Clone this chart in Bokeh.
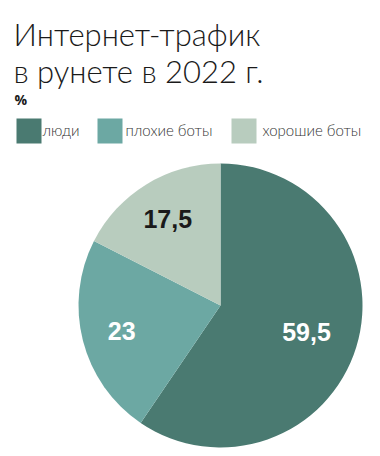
import math
from bokeh.plotting import figure
from bokeh.models import Range1d, ColumnDataSource
from bokeh.core.properties import value
from bokeh.embed import file_html
from bokeh.resources import INLINE

# ---- data ----
categories = ["люди", "плохие боты", "хорошие боты"]
shares = [59.5, 23, 17.5]
labels = ["59,5", "23", "17,5"]
colors = ["#4a7a71", "#6ca8a3", "#b8ccbe"]
label_colors = ["white", "white", "#1a1a1a"]
title_lines = ["Интернет-трафик", "в рунете в 2022 г."]
unit = "%"

W, H = 372, 448
p = figure(width=W, height=H, output_backend="svg", toolbar_location=None,
           x_range=Range1d(0, W), y_range=Range1d(0, H), min_border=0)
p.axis.visible = False
p.grid.visible = False
p.outline_line_color = None
p.background_fill_color = "white"
p.border_fill_color = "white"

TITLE_FONT = value("Lato Light")
FONT = value("Open Sans")

def Y(img_y):
    return H - img_y

# title
p.text(x=[13, 13], y=[Y(33), Y(70)], text=title_lines, text_font=TITLE_FONT,
       text_font_size="31px", text_color="#1a1a1a", text_baseline="alphabetic")
p.text(x=[14], y=[Y(99)], text=[unit], text_font=FONT, text_font_style="bold",
       text_font_size="14px", text_color="#1a1a1a", text_baseline="alphabetic")

# legend
leg_x = [28.5, 109.5, 243.5]
leg_tx = [42, 125, 262]
ly = Y(130.5)
p.rect(x=leg_x, y=[ly] * 3, width=25, height=25, fill_color=colors, line_color=None)
p.text(x=leg_tx, y=[ly + 1] * 3, text=categories, text_font=TITLE_FONT,
       text_font_size="15px", text_color="#333333", text_baseline="middle")

# pie
cx, cy, R = 220, Y(305), 142
total = sum(shares)
starts, ends, mids = [], [], []
cum = 0.0
for s in shares:
    a0 = math.pi / 2 - 2 * math.pi * cum / total
    cum += s
    a1 = math.pi / 2 - 2 * math.pi * cum / total
    starts.append(a0)
    ends.append(a1)
    mids.append((a0 + a1) / 2)

src = ColumnDataSource(dict(start=starts, end=ends, color=colors))
p.wedge(x=cx, y=cy, radius=R, start_angle="start", end_angle="end",
        direction="clock", fill_color="color", line_color=None,
        source=src)

lr = [90, 102, 101]
lx = [cx + r * math.cos(m) for r, m in zip(lr, mids)]
lyy = [cy + r * math.sin(m) for r, m in zip(lr, mids)]
p.text(x=lx, y=lyy, text=labels, text_color=label_colors,
       text_font=value("Liberation Sans"), text_font_style="bold",
       text_font_size="25px", text_align="center", text_baseline="middle")

open("out.html", "w").write(file_html(p, INLINE))
